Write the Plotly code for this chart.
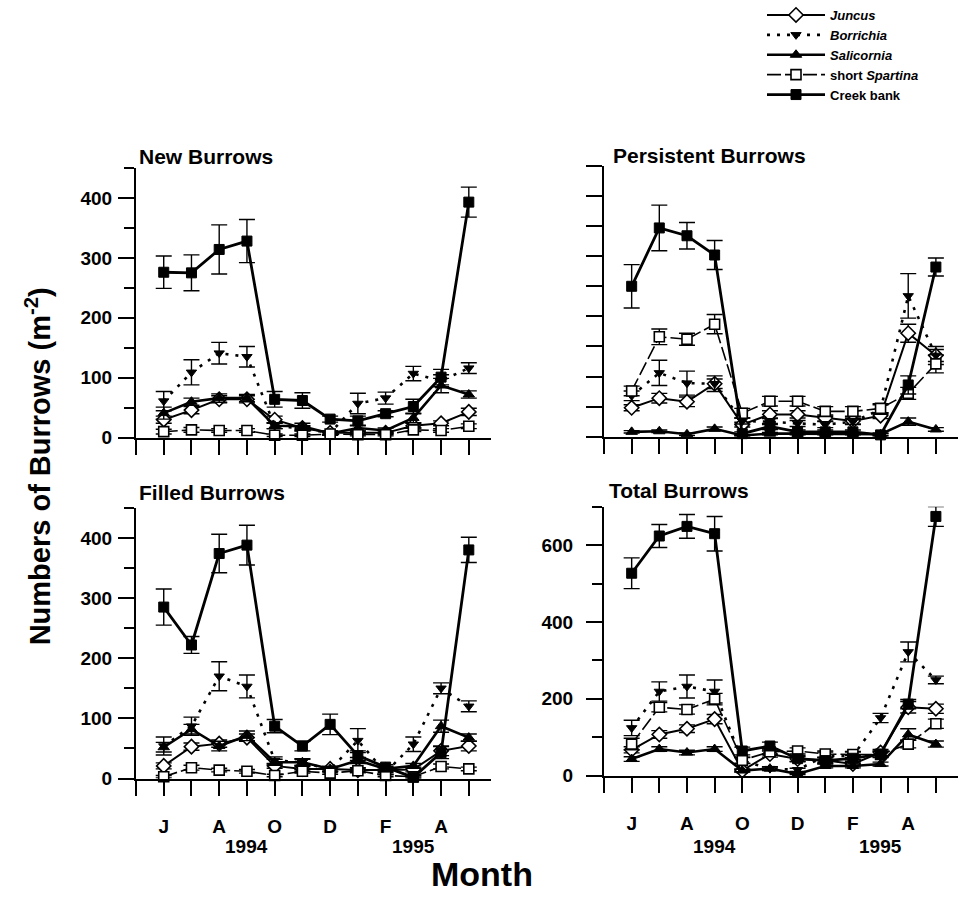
import plotly.graph_objects as go

FONT = "Liberation Sans Narrow, Arial Narrow, Liberation Sans, Arial, sans-serif"

months = list(range(12))  # Jun 1994 .. May 1995
month_ticks = list(range(-1, 12))
month_text = ["", "J", "", "A", "", "O", "", "D", "", "F", "", "A", ""]
years = ["1994", "1995"]
year_pos = [3, 9]

series = ["Juncus", "Borrichia", "Salicornia", "short Spartina", "Creek bank"]
legend_names = ["<b><i>Juncus</i></b>", "<b><i>Borrichia</i></b>", "<b><i>Salicornia</i></b>",
                "<b>short <i>Spartina</i></b>", "<b>Creek bank</b>"]

# ---- New Burrows ----
new_juncus = [30, 46, 64, 64, 30, 16, 8, 8, 8, 20, 24, 43]
new_juncus_err = [6, 6, 6, 6, 6, 4, 3, 3, 3, 4, 4, 6]
new_borrichia = [61, 109, 141, 135, 20, 15, 8, 57, 66, 107, 95, 116]
new_borrichia_err = [16, 21, 18, 17, 5, 4, 3, 17, 10, 12, 10, 9]
new_salicornia = [41, 60, 66, 66, 20, 19, 7, 16, 12, 33, 87, 72]
new_salicornia_err = [10, 6, 7, 6, 5, 5, 3, 5, 4, 8, 12, 6]
new_spartina = [10, 13, 12, 12, 4, 4, 6, 5, 5, 13, 12, 19]
new_spartina_err = [4, 4, 3, 3, 2, 2, 2, 2, 2, 3, 3, 4]
new_creek = [276, 275, 314, 328, 64, 62, 31, 28, 40, 52, 101, 393]
new_creek_err = [27, 30, 41, 36, 13, 13, 5, 8, 5, 12, 13, 25]

# ---- Persistent Burrows ----
per_juncus = [48, 64, 58, 88, 20, 37, 37, 31, 26, 35, 172, 135]
per_juncus_err = [5, 8, 8, 8, 4, 6, 6, 5, 5, 5, 15, 10]
per_borrichia = [68, 106, 89, 88, 26, 25, 22, 20, 25, 45, 234, 135]
per_borrichia_err = [8, 21, 20, 13, 5, 5, 5, 5, 5, 8, 37, 15]
per_salicornia = [8, 9, 4, 13, 2, 5, 5, 5, 5, 4, 25, 12]
per_salicornia_err = [2, 2, 2, 3, 1, 2, 2, 2, 2, 2, 6, 3]
per_spartina = [76, 166, 162, 187, 39, 59, 59, 42, 42, 47, 72, 121]
per_spartina_err = [8, 13, 10, 16, 8, 8, 8, 8, 8, 8, 10, 15]
per_creek = [250, 347, 334, 302, 5, 17, 8, 8, 8, 3, 86, 282]
per_creek_err = [36, 38, 22, 24, 3, 5, 3, 3, 3, 2, 15, 15]

# ---- Filled Burrows ----
fil_juncus = [21, 53, 58, 68, 21, 16, 16, 14, 14, 15, 46, 54]
fil_juncus_err = [5, 6, 6, 6, 4, 4, 4, 4, 4, 4, 8, 8]
fil_borrichia = [54, 87, 170, 153, 30, 27, 15, 63, 10, 57, 150, 120]
fil_borrichia_err = [15, 15, 24, 19, 6, 6, 4, 20, 4, 12, 9, 9]
fil_salicornia = [52, 82, 54, 71, 27, 27, 16, 30, 16, 21, 87, 68]
fil_salicornia_err = [8, 8, 8, 8, 5, 5, 4, 5, 4, 4, 10, 6]
fil_spartina = [3, 18, 14, 12, 5, 12, 9, 13, 5, 3, 20, 16]
fil_spartina_err = [2, 4, 3, 3, 2, 3, 2, 3, 2, 2, 4, 3]
fil_creek = [285, 222, 374, 388, 87, 54, 90, 38, 19, 2, 43, 380]
fil_creek_err = [30, 14, 32, 33, 11, 8, 17, 8, 4, 2, 10, 21]

# ---- Total Burrows ----
tot_juncus = [67, 107, 122, 147, 13, 56, 43, 40, 30, 60, 178, 174]
tot_juncus_err = [8, 10, 10, 12, 4, 8, 6, 6, 5, 8, 15, 12]
tot_borrichia = [124, 219, 232, 219, 39, 18, 15, 51, 51, 150, 322, 249]
tot_borrichia_err = [20, 25, 30, 30, 8, 5, 4, 10, 10, 12, 26, 10]
tot_salicornia = [43, 69, 60, 69, 13, 18, 4, 25, 25, 30, 107, 82]
tot_salicornia_err = [6, 6, 6, 6, 3, 4, 2, 5, 5, 5, 15, 8]
tot_spartina = [82, 178, 172, 199, 40, 62, 64, 56, 55, 55, 82, 135]
tot_spartina_err = [15, 12, 12, 15, 8, 8, 8, 8, 8, 8, 10, 12]
tot_creek = [527, 624, 649, 630, 64, 77, 44, 39, 45, 56, 186, 675]
tot_creek_err = [40, 30, 31, 45, 10, 10, 8, 8, 8, 8, 12, 26]

panels = [
    ("New Burrows", [new_juncus, new_borrichia, new_salicornia, new_spartina, new_creek],
     [new_juncus_err, new_borrichia_err, new_salicornia_err, new_spartina_err, new_creek_err]),
    ("Persistent Burrows", [per_juncus, per_borrichia, per_salicornia, per_spartina, per_creek],
     [per_juncus_err, per_borrichia_err, per_salicornia_err, per_spartina_err, per_creek_err]),
    ("Filled Burrows", [fil_juncus, fil_borrichia, fil_salicornia, fil_spartina, fil_creek],
     [fil_juncus_err, fil_borrichia_err, fil_salicornia_err, fil_spartina_err, fil_creek_err]),
    ("Total Burrows", [tot_juncus, tot_borrichia, tot_salicornia, tot_spartina, tot_creek],
     [tot_juncus_err, tot_borrichia_err, tot_salicornia_err, tot_spartina_err, tot_creek_err]),
]

styles = [
    dict(line=dict(color="black", width=2, dash="solid"),
         marker=dict(symbol="diamond", size=11, color="white", line=dict(color="black", width=1.6))),
    dict(line=dict(color="black", width=2.6, dash="3px,7px"),
         marker=dict(symbol="triangle-down", size=9, color="black", line=dict(color="black", width=1))),
    dict(line=dict(color="black", width=2.6, dash="solid"),
         marker=dict(symbol="triangle-up", size=10, color="black", line=dict(color="black", width=1))),
    dict(line=dict(color="black", width=1.6, dash="14px,4px"),
         marker=dict(symbol="square", size=10, color="white", line=dict(color="black", width=1.6))),
    dict(line=dict(color="black", width=2.8, dash="solid"),
         marker=dict(symbol="square", size=10, color="black", line=dict(color="black", width=1))),
]

W, H = 964, 914
def px_x(a, b):
    return [a / W, b / W]
def px_y(top, bottom):
    return [1 - bottom / H, 1 - top / H]

fig = go.Figure()
for p, (title, vals, errs) in enumerate(panels):
    xa = "x" if p == 0 else f"x{p+1}"
    ya = "y" if p == 0 else f"y{p+1}"
    for s in range(5):
        fig.add_trace(go.Scatter(
            x=months, y=vals[s], xaxis=xa, yaxis=ya, mode="lines+markers",
            name=legend_names[s], showlegend=(p == 0), legendgroup=series[s],
            line=styles[s]["line"], marker=styles[s]["marker"],
            error_y=dict(type="data", array=errs[s], visible=True, color="black",
                         thickness=1.4, width=8),
            cliponaxis=False,
        ))

axis_common = dict(range=[-1, 11.8], showgrid=False, zeroline=False, showline=True,
                   linecolor="black", linewidth=2, ticks="outside", ticklen=15,
                   tickwidth=2, tickcolor="black", tickvals=month_ticks,
                   ticktext=month_text, tickfont=dict(family=FONT, size=19, color="black", weight="bold"))
yaxis_common = dict(showgrid=False, zeroline=False, showline=True, linecolor="black",
                    linewidth=2, ticks="outside", ticklen=16, tickwidth=2, tickcolor="black",
                    tickfont=dict(family=FONT, size=19, color="black", weight="bold"))

left_x = px_x(136, 491)
right_x = px_x(604, 958)
lay = dict(
    xaxis=dict(axis_common, domain=left_x, anchor="y", showticklabels=False),
    xaxis2=dict(axis_common, domain=right_x, anchor="y2", showticklabels=False),
    xaxis3=dict(axis_common, domain=left_x, anchor="y3", ticklabelstandoff=15),
    xaxis4=dict(axis_common, domain=right_x, anchor="y4", ticklabelstandoff=15),
    yaxis=dict(yaxis_common, domain=px_y(170, 443), anchor="x", range=[0, 450], dtick=100,
               minor=dict(dtick=50, ticks="outside", ticklen=10, tickwidth=2, tickcolor="black"),
               ticklabelstandoff=2),
    yaxis2=dict(yaxis_common, domain=px_y(168, 442), anchor="x2", range=[0, 450], dtick=50,
                showticklabels=False),
    yaxis3=dict(yaxis_common, domain=px_y(514, 788), anchor="x3", range=[0, 450], dtick=100,
                minor=dict(dtick=50, ticks="outside", ticklen=10, tickwidth=2, tickcolor="black"),
                ticklabelstandoff=2),
    yaxis4=dict(yaxis_common, domain=px_y(513, 785), anchor="x4", range=[0, 700], dtick=200,
                minor=dict(dtick=100, ticks="outside", ticklen=10, tickwidth=2, tickcolor="black"),
                ticklabelstandoff=9),
)
fig.update_layout(**lay)

ann = []
title_pos = [(137, 158), (611, 157), (137, 499), (607, 496)]
for (title, _, _), (tx, ty) in zip(panels, title_pos):
    ann.append(dict(text=f"<b>{title}</b>", x=tx / W, y=1 - ty / H, xref="paper", yref="paper",
                    xanchor="left", yanchor="middle", showarrow=False,
                    font=dict(family=FONT, size=21, color="black")))
for xa in ["x3", "x4"]:
    for yr, pos in zip(years, year_pos):
        ann.append(dict(text=f"<b>{yr}</b>", x=pos, y=1 - 857 / H, xref=xa, yref="paper",
                        xanchor="center", yanchor="middle", showarrow=False,
                        font=dict(family=FONT, size=19, color="black")))
ann.append(dict(text="<b>Numbers of Burrows (m<sup>-2</sup>)</b>", x=38 / W, y=1 - 472 / H,
                xref="paper", yref="paper", textangle=-90, showarrow=False,
                xanchor="center", yanchor="middle",
                font=dict(family=FONT, size=29, color="black")))
ann.append(dict(text="<b>Month</b>", x=482 / W, y=1 - 885 / H, xref="paper", yref="paper",
                showarrow=False, xanchor="center", yanchor="middle",
                font=dict(family=FONT, size=34, color="black")))

fig.update_layout(
    width=W, height=H, margin=dict(l=0, r=0, t=0, b=0),
    paper_bgcolor="white", plot_bgcolor="white",
    annotations=ann, showlegend=True,
    legend=dict(x=762 / W, y=1, xanchor="left", yanchor="top",
                bgcolor="rgba(0,0,0,0)", itemwidth=58, tracegroupgap=0,
                font=dict(family=FONT, size=13, color="black")),
)

fig.write_html("out.html")
